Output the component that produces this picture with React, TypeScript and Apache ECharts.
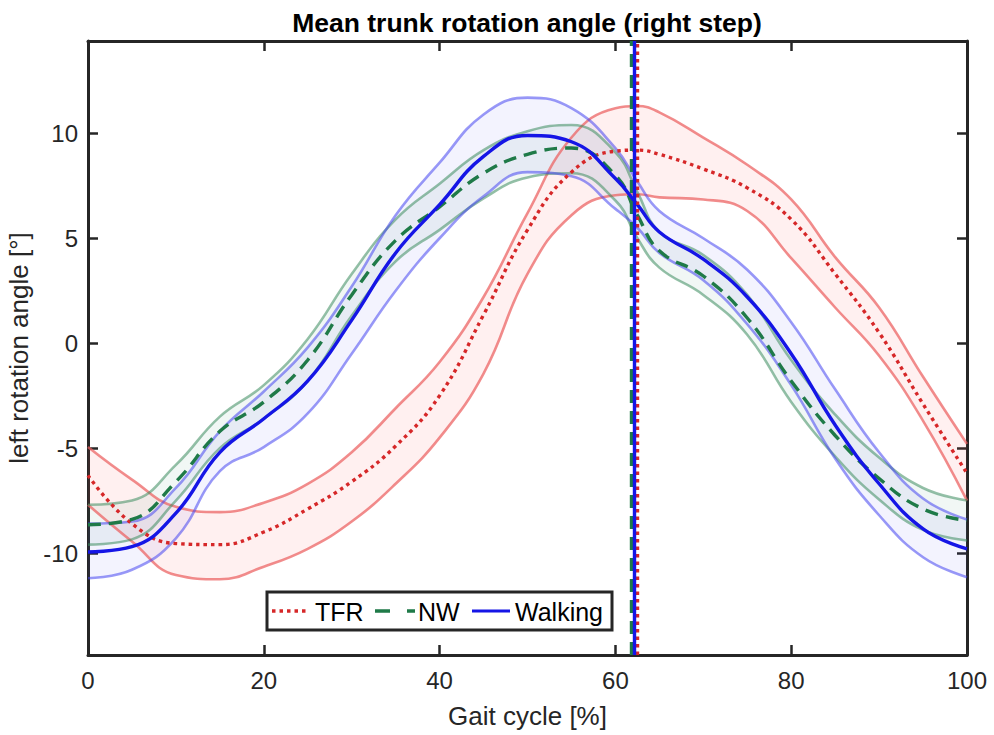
import React, { useEffect, useRef } from "react";
import * as echarts from "echarts";

// ---- data (gait cycle %, angle in degrees) ----
const gaitX = [0, 5, 10, 15, 20, 25, 30, 35, 40, 45, 50, 55, 60, 62.5, 65, 70, 75, 80, 85, 90, 95, 100];

const tfrMean = [-6.3, -8.6, -9.55, -9.6, -9.0, -7.9, -6.6, -4.9, -2.5, 1.35, 5.4, 8.15, 9.15, 9.2, 9.0, 8.3, 7.4, 5.9, 3.3, 0.5, -2.9, -6.2];
const tfrUpper = [-4.95, -6.5, -7.8, -8.05, -7.6, -6.7, -5.2, -3.1, -0.9, 2.2, 6.2, 9.8, 11.2, 11.3, 11.0, 9.8, 8.5, 6.85, 4.1, 1.7, -1.6, -4.8];
const tfrLower = [-7.7, -9.45, -11.05, -11.25, -10.65, -9.8, -8.5, -6.7, -4.5, -1.45, 3.3, 6.1, 7.05, 7.1, 6.95, 6.85, 6.3, 4.05, 1.7, -0.6, -3.7, -7.5];

const nwMean = [-8.65, -8.4, -6.6, -4.2, -2.8, -0.8, 2.3, 4.9, 6.5, 8.1, 9.0, 9.3, 8.0, 6.1, 4.4, 3.2, 1.2, -1.8, -4.4, -6.45, -7.9, -8.45];
const nwUpper = [-7.7, -7.5, -5.8, -3.5, -2.0, 0.2, 3.3, 5.9, 7.6, 9.2, 10.1, 10.4, 9.1, 7.2, 5.3, 4.2, 2.3, -0.8, -3.4, -5.45, -6.9, -7.5];
const nwLower = [-9.6, -9.35, -7.5, -5.0, -3.6, -1.8, 1.3, 3.9, 5.4, 6.9, 7.9, 8.1, 6.8, 5.0, 3.6, 2.3, 0.4, -2.8, -5.4, -7.45, -8.9, -9.4];

const walkMean = [-9.95, -9.7, -8.1, -5.2, -3.6, -1.8, 1.1, 4.3, 6.6, 8.9, 9.9, 9.6, 7.85, 6.6, 5.3, 4.0, 2.2, -0.5, -3.9, -6.7, -8.85, -9.8];
const walkUpper = [-8.6, -8.5, -6.9, -4.2, -2.3, -0.2, 2.7, 6.1, 8.6, 10.9, 11.7, 11.2, 9.3, 7.7, 6.3, 5.0, 3.5, 1.0, -2.2, -5.2, -7.4, -8.4];
const walkLower = [-11.2, -10.8, -9.3, -6.1, -4.95, -3.35, -0.5, 2.5, 5.0, 7.0, 8.15, 7.95, 6.4, 5.5, 4.3, 3.0, 0.9, -2.0, -5.5, -8.2, -10.2, -11.15];

// event markers (% gait cycle)
const eventNW = 61.8;
const eventWalk = 62.1;
const eventTFR = 62.5;

const yTicks = [-10, -5, 0, 5, 10];
const yMin = -14.86;
const yMax = 14.4;

const FONT = '"Liberation Sans", Arial, Helvetica, sans-serif';
const AX = "#262626";

const RED = "#d62728";
const RED_EDGE = "rgba(236, 96, 96, 0.72)";
const RED_FILL = "rgba(250, 90, 90, 0.13)";
const GREEN = "#1f7a48";
const GREEN_EDGE = "rgba(60, 140, 95, 0.55)";
const GREEN_FILL = "rgba(60, 140, 120, 0.10)";
const BLUE = "#1515e6";
const BLUE_EDGE = "rgba(70, 70, 240, 0.55)";
const BLUE_FILL = "rgba(80, 80, 240, 0.10)";

const SMOOTH = 0.45;

// value dimension first so that stacking acts on the angle, x second
const DIMS = ["val", "pct"];
const ENC = { x: "pct", y: "val" };
const rows = (ys: number[]) => gaitX.map((x, i) => [ys[i], x]);
const diffRows = (up: number[], lo: number[]) => gaitX.map((x, i) => [up[i] - lo[i], x]);

function band(id: string, up: number[], lo: number[], edge: string, fill: string) {
  return [
    {
      name: id + " lower",
      type: "line",
      stack: id,
      stackStrategy: "all",
      dimensions: DIMS,
      encode: ENC,
      data: rows(lo),
      symbol: "none",
      smooth: SMOOTH,
      silent: true,
      lineStyle: { color: edge, width: 2.6 },
      z: 2,
    },
    {
      name: id + " band",
      type: "line",
      stack: id,
      stackStrategy: "all",
      dimensions: DIMS,
      encode: ENC,
      data: diffRows(up, lo),
      symbol: "none",
      smooth: SMOOTH,
      silent: true,
      lineStyle: { color: edge, width: 2.6 },
      areaStyle: { color: fill },
      z: 2,
    },
  ];
}

function meanSeries(name: string, ys: number[], color: string, type: any, ev: number) {
  return {
    name,
    type: "line",
    dimensions: DIMS,
    encode: ENC,
    data: rows(ys),
    symbol: "none",
    smooth: SMOOTH,
    silent: true,
    lineStyle: { color, width: 3.4, type, cap: "butt" },
    z: 4,
    markLine: {
      symbol: ["none", "none"],
      silent: true,
      label: { show: false },
      lineStyle: { color, width: 3.4, type, cap: "butt" },
      data: [{ xAxis: ev }],
      z: 6,
    },
  };
}

const axisLine = { show: true, onZero: false, lineStyle: { color: AX, width: 3 } };
const axisTick = { show: true, inside: true, length: 10, lineStyle: { color: AX, width: 2.5 } };

export default function App() {
  const ref = useRef<HTMLDivElement>(null);
  useEffect(() => {
    if (!ref.current) return;
    const chart = echarts.init(ref.current, null, { renderer: "svg" });
    const option: any = {
      animation: false,
      backgroundColor: "#ffffff",
      grid: { left: 88, right: 27, top: 41, bottom: 80, outerBoundsMode: "none" },
      xAxis: [
        {
          type: "value",
          min: 0,
          max: 100,
          interval: 20,
          position: "bottom",
          axisLine,
          axisTick,
          splitLine: { show: false },
          axisLabel: { fontSize: 24, color: AX, margin: 13, fontFamily: FONT },
          name: "Gait cycle [%]",
          nameLocation: "middle",
          nameGap: 48,
          nameTextStyle: { fontSize: 26, color: AX, fontFamily: FONT },
        },
        {
          type: "value",
          min: 0,
          max: 100,
          interval: 20,
          position: "top",
          axisLine,
          axisTick,
          splitLine: { show: false },
          axisLabel: { show: false },
        },
      ],
      yAxis: [
        {
          type: "value",
          min: yMin,
          max: yMax,
          position: "left",
          axisLine,
          axisTick: { ...axisTick, customValues: yTicks },
          splitLine: { show: false },
          axisLabel: { fontSize: 24, color: AX, margin: 10, fontFamily: FONT, customValues: yTicks },
          name: "left rotation angle [°]",
          nameLocation: "middle",
          nameGap: 53,
          nameTextStyle: { fontSize: 26, color: AX, fontFamily: FONT },
        },
        {
          type: "value",
          min: yMin,
          max: yMax,
          position: "right",
          axisLine,
          axisTick: { ...axisTick, customValues: yTicks },
          splitLine: { show: false },
          axisLabel: { show: false },
        },
      ],
      series: [
        ...band("tfr", tfrUpper, tfrLower, RED_EDGE, RED_FILL),
        ...band("nw", nwUpper, nwLower, GREEN_EDGE, GREEN_FILL),
        ...band("walk", walkUpper, walkLower, BLUE_EDGE, BLUE_FILL),
        meanSeries("TFR", tfrMean, RED, [3.5, 4], eventTFR),
        meanSeries("NW", nwMean, GREEN, [13, 8], eventNW),
        meanSeries("Walking", walkMean, BLUE, "solid", eventWalk),
      ],
      graphic: [
        {
          type: "text",
          x: 527,
          y: 23,
          style: {
            text: "Mean trunk rotation angle (right step)",
            font: "bold 26.5px " + FONT,
            fill: "#000",
            align: "center",
            verticalAlign: "middle",
          },
        },
        {
          type: "group",
          z: 100,
          children: [
            {
              type: "rect",
              shape: { x: 267, y: 592, width: 345, height: 38 },
              style: { fill: "#fff", stroke: AX, lineWidth: 3 },
            },
            {
              type: "line",
              shape: { x1: 272, y1: 611, x2: 308, y2: 611 },
              style: { stroke: RED, lineWidth: 3.5, lineDash: [3.5, 4] },
            },
            {
              type: "text",
              x: 315,
              y: 612,
              style: { text: "TFR", font: "25px " + FONT, fill: "#000", verticalAlign: "middle" },
            },
            {
              type: "line",
              shape: { x1: 375, y1: 611, x2: 415, y2: 611 },
              style: { stroke: GREEN, lineWidth: 3.5, lineDash: [15, 17] },
            },
            {
              type: "text",
              x: 418,
              y: 612,
              style: { text: "NW", font: "25px " + FONT, fill: "#000", verticalAlign: "middle" },
            },
            {
              type: "line",
              shape: { x1: 472, y1: 611, x2: 510, y2: 611 },
              style: { stroke: BLUE, lineWidth: 3.2 },
            },
            {
              type: "text",
              x: 515,
              y: 612,
              style: { text: "Walking", font: "25px " + FONT, fill: "#000", verticalAlign: "middle" },
            },
          ],
        },
      ],
    };
    chart.setOption(option);
    return () => chart.dispose();
  }, []);
  return (
    <div
      ref={ref}
      style={{ position: "fixed", left: 0, top: 0, width: 994, height: 735, background: "#fff" }}
    />
  );
}
